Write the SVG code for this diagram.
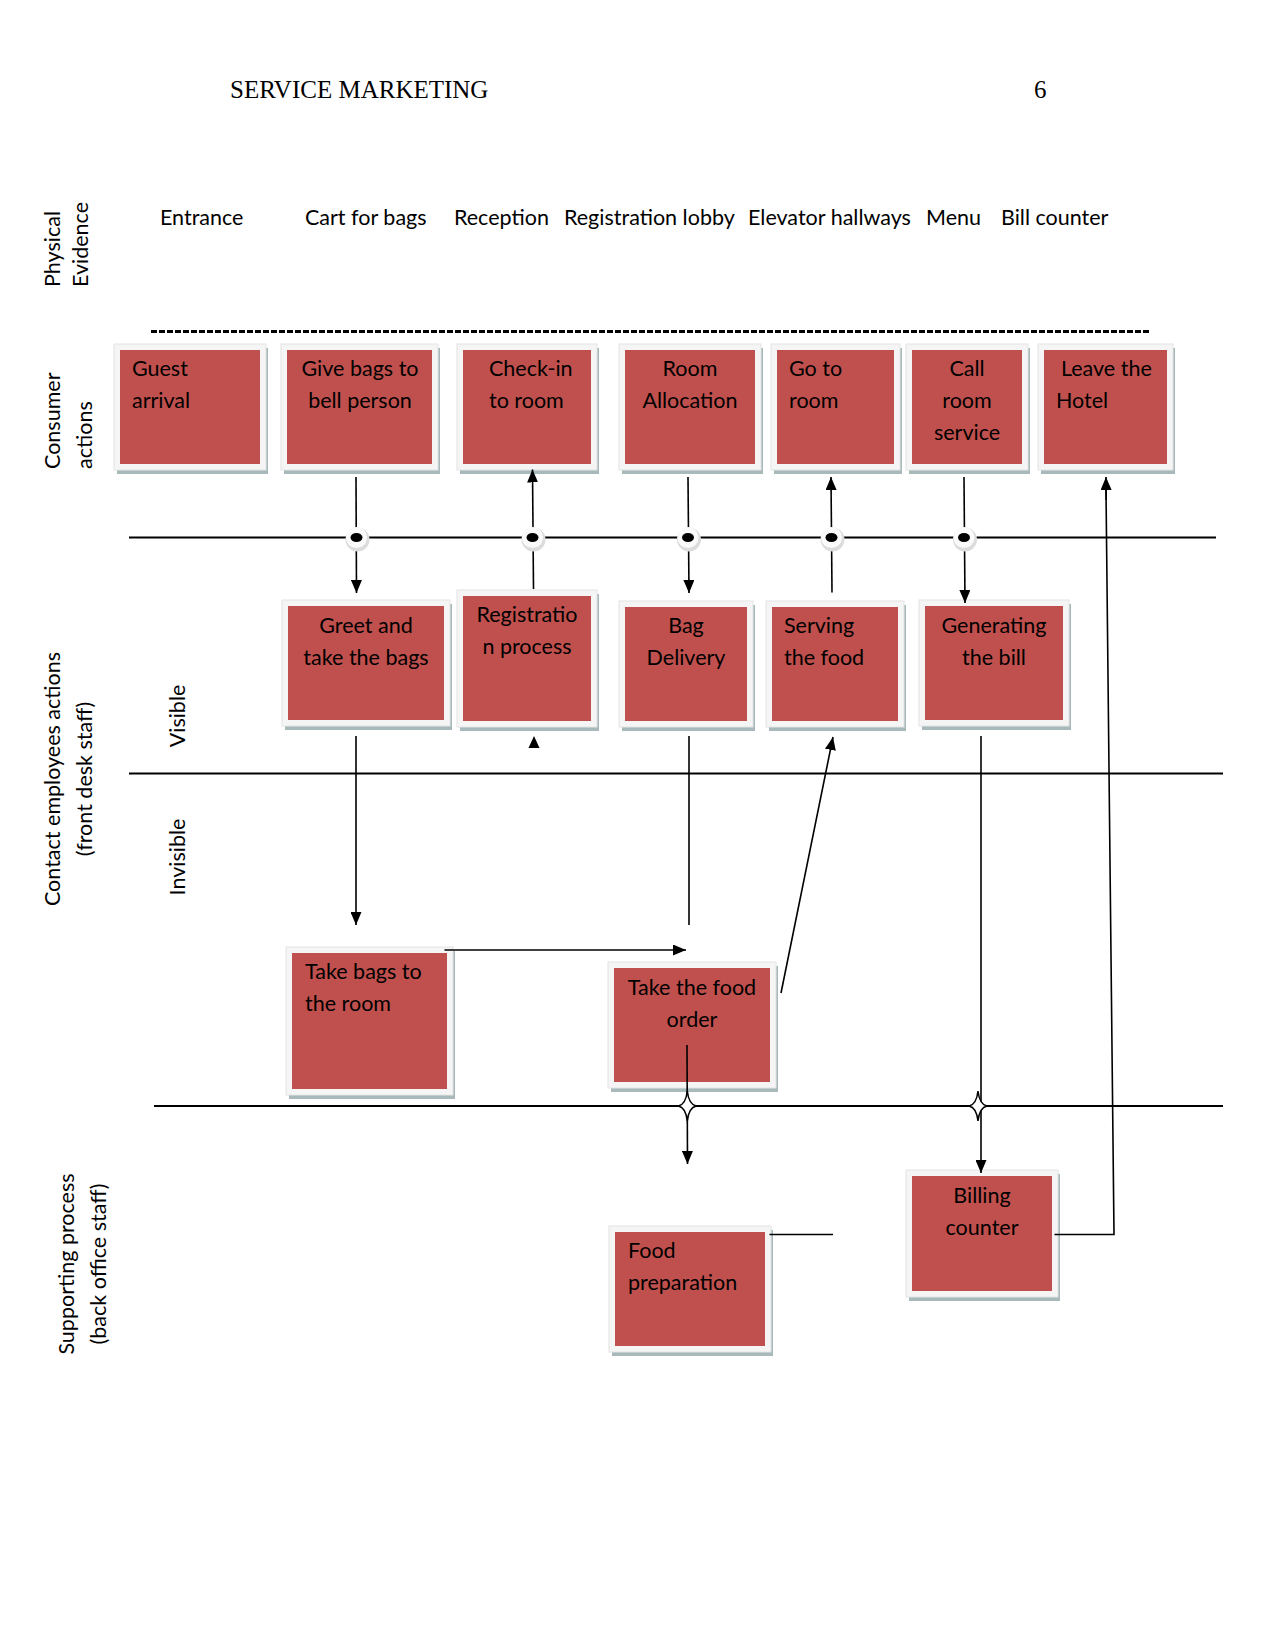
<svg xmlns="http://www.w3.org/2000/svg" width="1275" height="1650" viewBox="0 0 1275 1650">
<defs>
<style>
.bg{fill:#ffffff}
.shadow{fill:#a7b9bb}
.frame{fill:#f5f5f5;stroke:#e4e4e4;stroke-width:1}
.red{fill:#c0504d}
.t{font-family:Lato,"Liberation Sans",sans-serif;font-size:21.5px;fill:#000}
.c{text-anchor:middle}
.lab{font-family:Lato,"Liberation Sans",sans-serif;font-size:21.5px;fill:#000}
.hdr{font-family:"Liberation Serif",serif;font-size:25px;fill:#000}
.ln{stroke:#000;stroke-width:1.8;fill:none}
.dash{stroke:#000;stroke-width:2.8;fill:none;stroke-dasharray:6 2}
.arr{stroke:#000;stroke-width:1.6;fill:none;marker-end:url(#ah)}
.con{stroke:#000;stroke-width:1.6;fill:none}
.star{fill:#fff;stroke:#000;stroke-width:1.5}
.halo{fill:#dcdcdc}
.halo2{fill:#fafafa}
.dot{fill:#000}
</style>
<marker id="ah" viewBox="0 0 13 11" markerWidth="13" markerHeight="11" refX="13" refY="5.5" orient="auto" markerUnits="userSpaceOnUse">
<path d="M0,0 L13,5.5 L0,11 z" fill="#000"/>
</marker>
</defs>
<rect class="bg" x="0" y="0" width="1275" height="1650"/>

<g id="header">
<text class="hdr" x="230" y="98">SERVICE MARKETING</text>
<text class="hdr" x="1034" y="98">6</text>
</g>

<g id="lane-labels">
<text class="lab" transform="translate(60,287) rotate(-90)">Physical</text>
<text class="lab" transform="translate(88,287) rotate(-90)">Evidence</text>
<text class="lab" transform="translate(60,469) rotate(-90)">Consumer</text>
<text class="lab" transform="translate(92,469) rotate(-90)">actions</text>
<text class="lab c" transform="translate(60,779) rotate(-90)">Contact employees actions</text>
<text class="lab c" transform="translate(92,779) rotate(-90)">(front desk staff)</text>
<text class="lab c" transform="translate(185,716) rotate(-90)">Visible</text>
<text class="lab c" transform="translate(185,857) rotate(-90)">Invisible</text>
<text class="lab c" transform="translate(74,1264) rotate(-90)">Supporting process</text>
<text class="lab c" transform="translate(106,1264) rotate(-90)">(back office staff)</text>
</g>

<g id="physical-evidence">
<text class="t" x="160" y="225">Entrance</text>
<text class="t" x="305" y="225">Cart for bags</text>
<text class="t" x="454" y="225">Reception</text>
<text class="t" x="564" y="225">Registration lobby</text>
<text class="t" x="748" y="225">Elevator hallways</text>
<text class="t" x="926" y="225">Menu</text>
<text class="t" x="1001" y="225">Bill counter</text>
</g>

<g id="lines">
<line class="dash" x1="151" y1="331.5" x2="1149" y2="331.5"/>
<line class="ln" x1="129" y1="537.5" x2="1216" y2="537.5"/>
<line class="ln" x1="129" y1="773.5" x2="1223" y2="773.5"/>
<line class="ln" x1="154" y1="1106" x2="1223" y2="1106"/>
</g>

<g id="n-guest">
<rect class="shadow" x="117" y="348" width="151" height="126"/>
<rect class="frame" x="114" y="344" width="152" height="126"/>
<rect class="red" x="120" y="350" width="140" height="114"/>
<text class="t" x="132" y="376">Guest</text>
<text class="t" x="132" y="408">arrival</text>
</g>
<g id="n-givebags">
<rect class="shadow" x="284" y="348" width="156" height="126"/>
<rect class="frame" x="281" y="344" width="157" height="126"/>
<rect class="red" x="287" y="350" width="145" height="114"/>
<text class="t c" x="360" y="376">Give bags to</text>
<text class="t c" x="360" y="408">bell person</text>
</g>
<g id="n-checkin">
<rect class="shadow" x="460" y="348" width="139" height="126"/>
<rect class="frame" x="457" y="344" width="140" height="126"/>
<rect class="red" x="463" y="350" width="128" height="114"/>
<text class="t" x="489" y="376">Check-in</text>
<text class="t" x="489" y="408">to room</text>
</g>
<g id="n-roomalloc">
<rect class="shadow" x="622" y="348" width="141" height="126"/>
<rect class="frame" x="619" y="344" width="142" height="126"/>
<rect class="red" x="625" y="350" width="130" height="114"/>
<text class="t c" x="690" y="376">Room</text>
<text class="t c" x="690" y="408">Allocation</text>
</g>
<g id="n-gotoroom">
<rect class="shadow" x="774" y="348" width="128" height="126"/>
<rect class="frame" x="771" y="344" width="129" height="126"/>
<rect class="red" x="777" y="350" width="117" height="114"/>
<text class="t" x="789" y="376">Go to</text>
<text class="t" x="789" y="408">room</text>
</g>
<g id="n-callroom">
<rect class="shadow" x="909" y="348" width="121" height="126"/>
<rect class="frame" x="906" y="344" width="122" height="126"/>
<rect class="red" x="912" y="350" width="110" height="114"/>
<text class="t c" x="967" y="376">Call</text>
<text class="t c" x="967" y="408">room</text>
<text class="t c" x="967" y="440">service</text>
</g>
<g id="n-leave">
<rect class="shadow" x="1041" y="348" width="134" height="126"/>
<rect class="frame" x="1038" y="344" width="135" height="126"/>
<rect class="red" x="1044" y="350" width="123" height="114"/>
<text class="t" x="1061" y="376">Leave the</text>
<text class="t" x="1056" y="408">Hotel</text>
</g>

<g id="n-greet">
<rect class="shadow" x="285" y="604" width="167" height="126"/>
<rect class="frame" x="282" y="600" width="168" height="126"/>
<rect class="red" x="288" y="606" width="156" height="114"/>
<text class="t c" x="366" y="633">Greet and</text>
<text class="t c" x="366" y="665">take the bags</text>
</g>
<g id="n-registration">
<rect class="shadow" x="460" y="594" width="139" height="137"/>
<rect class="frame" x="457" y="590" width="140" height="137"/>
<rect class="red" x="463" y="596" width="128" height="125"/>
<text class="t c" x="527" y="622">Registratio</text>
<text class="t c" x="527" y="654">n process</text>
</g>
<g id="n-bagdelivery">
<rect class="shadow" x="622" y="605" width="133" height="126"/>
<rect class="frame" x="619" y="601" width="134" height="126"/>
<rect class="red" x="625" y="607" width="122" height="114"/>
<text class="t c" x="686" y="633">Bag</text>
<text class="t c" x="686" y="665">Delivery</text>
</g>
<g id="n-serving">
<rect class="shadow" x="769" y="605" width="137" height="126"/>
<rect class="frame" x="766" y="601" width="138" height="126"/>
<rect class="red" x="772" y="607" width="126" height="114"/>
<text class="t" x="784" y="633">Serving</text>
<text class="t" x="784" y="665">the food</text>
</g>
<g id="n-generating">
<rect class="shadow" x="922" y="604" width="149" height="126"/>
<rect class="frame" x="919" y="600" width="150" height="126"/>
<rect class="red" x="925" y="606" width="138" height="114"/>
<text class="t c" x="994" y="633">Generating</text>
<text class="t c" x="994" y="665">the bill</text>
</g>

<g id="n-takebags">
<rect class="shadow" x="289" y="951" width="166" height="148"/>
<rect class="frame" x="286" y="947" width="167" height="148"/>
<rect class="red" x="292" y="953" width="155" height="136"/>
<text class="t" x="305" y="979">Take bags to</text>
<text class="t" x="305" y="1011">the room</text>
</g>
<g id="n-takefood">
<rect class="shadow" x="611" y="966" width="167" height="126"/>
<rect class="frame" x="608" y="962" width="168" height="126"/>
<rect class="red" x="614" y="968" width="156" height="114"/>
<text class="t c" x="692" y="995">Take the food</text>
<text class="t c" x="692" y="1027">order</text>
</g>

<g id="n-foodprep">
<rect class="shadow" x="612" y="1230" width="161" height="126"/>
<rect class="frame" x="609" y="1226" width="162" height="126"/>
<rect class="red" x="615" y="1232" width="150" height="114"/>
<text class="t" x="628" y="1258">Food</text>
<text class="t" x="628" y="1290">preparation</text>
</g>
<g id="n-billing">
<rect class="shadow" x="909" y="1174" width="151" height="127"/>
<rect class="frame" x="906" y="1170" width="152" height="127"/>
<rect class="red" x="912" y="1176" width="140" height="115"/>
<text class="t c" x="982" y="1203">Billing</text>
<text class="t c" x="982" y="1235">counter</text>
</g>

<g id="connectors">
<line class="arr" x1="356" y1="477" x2="356.5" y2="593"/>
<line class="arr" x1="533.5" y1="589" x2="532.5" y2="469.5"/>
<line class="arr" x1="688" y1="477" x2="689" y2="593"/>
<line class="arr" x1="832" y1="592.5" x2="831" y2="477"/>
<line class="arr" x1="964" y1="477" x2="965" y2="603"/>
<polyline class="con" points="1054.5,1234.5 1114,1234.5 1106,490"/>
<line class="arr" x1="1106.2" y1="500" x2="1106" y2="477"/>
<polygon points="534,736 528.5,748 539.5,748" fill="#000"/>
<line class="arr" x1="356" y1="736" x2="356" y2="925"/>
<line class="arr" x1="444.5" y1="950" x2="686" y2="950"/>
<line class="con" x1="689" y1="736" x2="689" y2="925"/>
<line class="arr" x1="781" y1="993" x2="833" y2="737"/>
<line class="arr" x1="687" y1="1045" x2="687.5" y2="1164"/>
<line class="arr" x1="981" y1="736" x2="981" y2="1173"/>
<line class="con" x1="769.5" y1="1234.5" x2="833" y2="1234.5"/>
</g>

<g id="interaction-dots">
<circle class="halo" cx="357.5" cy="539.5" r="12"/><circle class="halo2" cx="356.5" cy="537.5" r="10.5"/><ellipse class="dot" cx="356.5" cy="537.5" rx="6" ry="4.5"/>
<circle class="halo" cx="533.5" cy="539.5" r="12"/><circle class="halo2" cx="532.5" cy="537.5" r="10.5"/><ellipse class="dot" cx="532.5" cy="537.5" rx="6" ry="4.5"/>
<circle class="halo" cx="689" cy="539.5" r="12"/><circle class="halo2" cx="688" cy="537.5" r="10.5"/><ellipse class="dot" cx="688" cy="537.5" rx="6" ry="4.5"/>
<circle class="halo" cx="832.5" cy="539.5" r="12"/><circle class="halo2" cx="831.5" cy="537.5" r="10.5"/><ellipse class="dot" cx="831.5" cy="537.5" rx="6" ry="4.5"/>
<circle class="halo" cx="965" cy="539.5" r="12"/><circle class="halo2" cx="964" cy="537.5" r="10.5"/><ellipse class="dot" cx="964" cy="537.5" rx="6" ry="4.5"/>
</g>

<g id="stars">
<path class="star" transform="translate(687.3,1106)" d="M0,-15 Q1.5,-1.5 9,0 Q1.5,1.5 0,15 Q-1.5,1.5 -9,0 Q-1.5,-1.5 0,-15 Z"/>
<path class="star" transform="translate(978,1106)" d="M0,-15 Q1.5,-1.5 9,0 Q1.5,1.5 0,15 Q-1.5,1.5 -9,0 Q-1.5,-1.5 0,-15 Z"/>
</g>
</svg>
